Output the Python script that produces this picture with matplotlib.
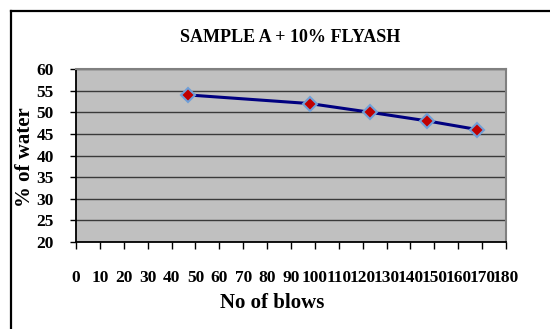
import matplotlib
matplotlib.use("Agg")
import matplotlib.pyplot as plt
from matplotlib.lines import Line2D

blows = [47, 98, 123, 147, 168]
water = [54, 52, 50, 48, 46]
xticks = list(range(0, 181, 10))
yticks = list(range(20, 61, 5))

W, H = 550, 329
fig = plt.figure(figsize=(W/100, H/100), dpi=100)
fig.patch.set_facecolor("white")
plt.rcParams['font.family'] = ['Liberation Serif', 'DejaVu Serif']

# outer frame
fig.add_artist(Line2D([11/W, 11/W], [0, 1 - 11/H], color="black", lw=1.6, transform=fig.transFigure))
fig.add_artist(Line2D([11/W, 1], [1 - 11/H, 1 - 11/H], color="black", lw=1.6, transform=fig.transFigure))

ax = fig.add_axes([76/W, 1 - 242/H, 430/W, 173/H])
ax.set_facecolor("#C0C0C0")
ax.set_xlim(0, 180)
ax.set_ylim(20, 60)
ax.set_xticks(xticks)
ax.set_yticks(yticks)
ax.grid(axis="y", color="#3a3a3a", lw=1.0)
ax.set_axisbelow(True)

ax.plot(blows, water, color="#000080", lw=2.2, marker="D", markersize=7,
        markerfacecolor="#C00000", markeredgecolor="#6F9FD8", markeredgewidth=1.5, zorder=3)

for s in ["top", "right"]:
    ax.spines[s].set_color("#808080")
    ax.spines[s].set_linewidth(1.5)
for s in ["left", "bottom"]:
    ax.spines[s].set_color("black")
    ax.spines[s].set_linewidth(1.3)

ax.tick_params(axis="x", direction="out", length=5, width=1, pad=15, labelsize=12.5)
ax.tick_params(axis="y", direction="out", length=4, width=1, pad=12, labelsize=12.5)
for lab in ax.get_xticklabels() + ax.get_yticklabels():
    lab.set_fontweight("bold")

fig.text(272/W, 1 - 303/H, "No of blows", ha="center", va="center", fontsize=15, fontweight="bold")
fig.text(25/W, 1 - 157/H, "% of water", ha="center", va="center", rotation=90,
         fontsize=15, fontweight="bold")
fig.text(290/W, 1 - 38/H, "SAMPLE A + 10% FLYASH", ha="center", va="center",
         fontsize=13, fontweight="bold")

fig.savefig("out.png", dpi=100)
